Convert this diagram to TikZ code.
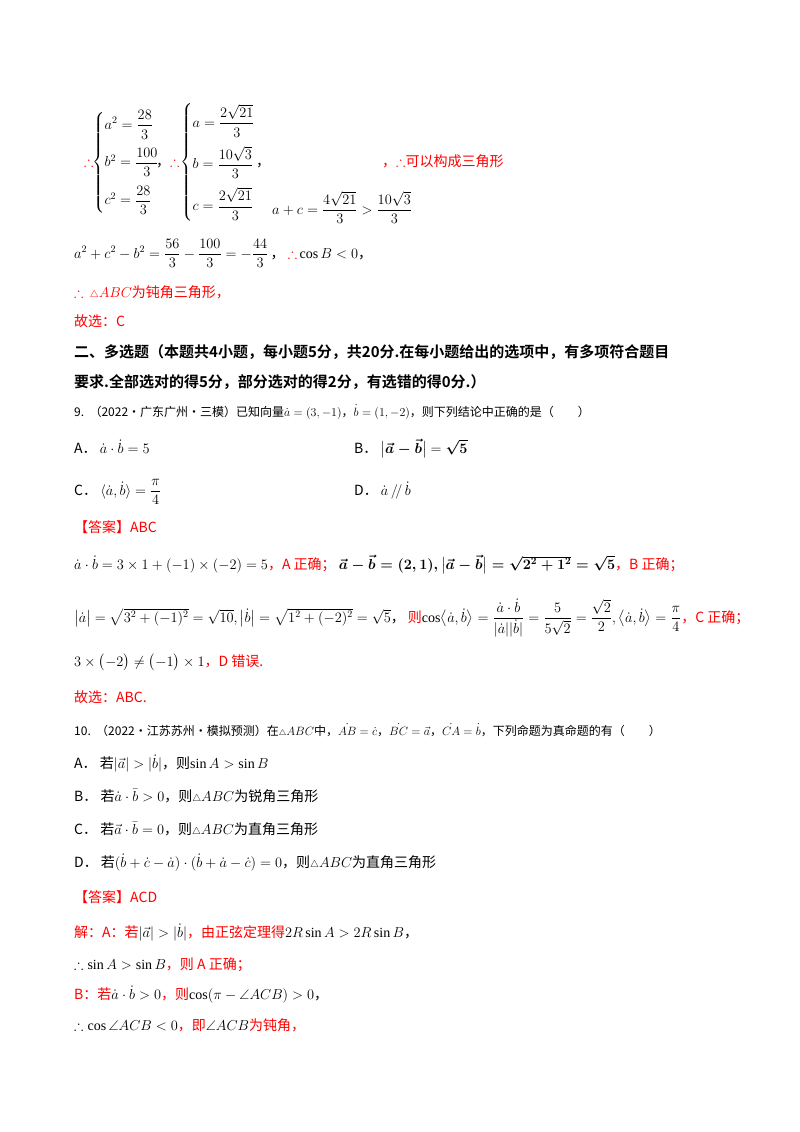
\documentclass[tikz,border=0pt]{standalone}
\usepackage{amsmath,amssymb}
\usepackage{fontspec}
\setmainfont{Liberation Serif}
\newfontfamily\cjk{Noto Sans CJK SC}
\newfontfamily\hei{Noto Sans CJK SC}[BoldFont={* Bold}]
\begin{document}
\begin{tikzpicture}[x=1pt,y=-1pt,
 t/.style={anchor=base west,inner sep=0pt,font=\fontsize{14}{16}\selectfont},
 r/.style={t,text=red}]
\useasboundingbox (0,0) rectangle (800,1132);
\fill[white] (0,0) rectangle (800,1132);
% systems
\node[r] (s1) at (84,166) {$\therefore$};
\node[t] (s2) at (92,166) {$\begin{cases} a^2=\dfrac{28}{3}\\[13pt] b^2=\dfrac{100}{3}\\[13pt] c^2=\dfrac{28}{3}\end{cases}$};
\node[t] (s3) at (156,166) {\cjk ，};
\node[r] (s4) at (170,166) {$\therefore$};
\node[t] (s5) at (180,166) {$\begin{cases} a=\dfrac{2\sqrt{21}}{3}\\[13pt] b=\dfrac{10\sqrt{3}}{3}\\[13pt] c=\dfrac{2\sqrt{21}}{3}\end{cases}$};
\node[t] (s6) at (256,166) {\cjk ，};
\node[t] (s7) at (272,214) {$a+c=\dfrac{4\sqrt{21}}{3}>\dfrac{10\sqrt{3}}{3}$};
\node[r] (s8) at (382,166) {\cjk ，$\therefore$可以构成三角形};
\node[t] (l2) at (74,258) {$a^2+c^2-b^2=\dfrac{56}{3}-\dfrac{100}{3}=-\dfrac{44}{3}$\,\cjk ，\ {\color{red}$\therefore$}\,$\cos B<0$，};
\node[r] (l3) at (74,297) {$\therefore\,{\scriptstyle\triangle}ABC$\cjk 为钝角三角形，};
\node[r] (l4) at (74,326) {\cjk 故选：C};
\node[t] (h1) at (74,357) {\hei\bfseries\fontsize{15}{17}\selectfont 二、多选题（本题共4小题，每小题5分，共20分.在每小题给出的选项中，有多项符合题目};
\node[t] (h2) at (74,387) {\hei\bfseries\fontsize{15}{17}\selectfont 要求.全部选对的得5分，部分选对的得2分，有选错的得0分.）};
\node[t] (q9) at (74,416) {\cjk\fontsize{12}{14}\selectfont 9.\ \ （2022·广东广州·三模）已知向量$\dot a=(3,-1)$，$\dot b=(1,-2)$，则下列结论中正确的是（\qquad）};
\node[t] (qa) at (74,453) {\cjk A．\ $\dot a\cdot\dot b=5$};
\node[t] (qb) at (354,453) {\cjk B．\ $\bigl|\boldsymbol{\vec a-\vec b}\bigr|=\boldsymbol{\sqrt5}$};
\node[t] (qc) at (74,495) {\cjk C．\ $\langle\dot a,\dot b\rangle=\dfrac{\pi}{4}$};
\node[t] (qd) at (354,495) {\cjk D．\ $\dot a\,/\!/\,\dot b$};
\node[r] (ans) at (74,532) {\cjk 【答案】ABC};
\node[t] (e1) at (74,569) {$\dot a\cdot\dot b=3\times1+(-1)\times(-2)=5$\cjk\color{red}，A 正确；\color{black}\ $\boldsymbol{\vec a-\vec b=(2,1),\bigl|\vec a-\vec b\bigr|=\sqrt{2^2+1^2}=\sqrt5}$\color{red}，B 正确；};
\node[t] (e2) at (74,622) {$\bigl|\dot a\bigr|=\sqrt{3^2+(-1)^2}=\sqrt{10},\bigl|\dot b\bigr|=\sqrt{1^2+(-2)^2}=\sqrt5$\cjk，\ {\color{red}则}$\cos\bigl\langle\dot a,\dot b\bigr\rangle=\dfrac{\dot a\cdot\dot b}{|\dot a||\dot b|}=\dfrac{5}{5\sqrt2}=\dfrac{\sqrt2}{2},\bigl\langle\dot a,\dot b\bigr\rangle=\dfrac{\pi}{4}$\color{red}，C 正确；};
\node[t] (e3) at (74,666) {$3\times\bigl(-2\bigr)\neq\bigl(-1\bigr)\times1$\cjk\color{red}，D 错误.};
\node[r] (e4) at (74,702) {\cjk 故选：ABC.};
\node[t] (q10) at (74,735) {\cjk\fontsize{12}{14}\selectfont 10.\ \ （2022·江苏苏州·模拟预测）在${\scriptstyle\triangle}ABC$中，$\dot{AB}=\dot c$，$\dot{BC}=\vec a$，$\dot{CA}=\dot b$，下列命题为真命题的有（\qquad）};
\node[t] (oa) at (74,768) {\cjk A．\ 若$|\vec a|>|\dot b|$，则$\sin A>\sin B$};
\node[t] (ob) at (74,801) {\cjk B．\ 若$\dot a\cdot\bar b>0$，则${\scriptstyle\triangle}ABC$为锐角三角形};
\node[t] (oc) at (74,834) {\cjk C．\ 若$\vec a\cdot\bar b=0$，则${\scriptstyle\triangle}ABC$为直角三角形};
\node[t] (od) at (74,867) {\cjk D．\ 若$(\dot b+\dot c-\dot a)\cdot(\dot b+\dot a-\dot c)=0$，则${\scriptstyle\triangle}ABC$为直角三角形};
\node[r] (an2) at (74,902) {\cjk 【答案】ACD};
\node[r] (f1) at (74,937) {\cjk 解：A：若\color{black}$|\vec a|>|\dot b|$\color{red}，由正弦定理得\color{black}$2R\sin A>2R\sin B$，};
\node[t] (f2) at (74,969) {$\therefore\sin A>\sin B$\cjk\color{red}，则 A 正确；};
\node[r] (f3) at (74,999) {\cjk B：若\color{black}$\dot a\cdot\dot b>0$\color{red}，则\color{black}$\cos(\pi-\angle ACB)>0$，};
\node[t] (f4) at (74,1030) {$\therefore\cos\angle ACB<0$\cjk\color{red}，即\color{black}$\angle ACB$\color{red}为钝角，};
\end{tikzpicture}
\end{document}
